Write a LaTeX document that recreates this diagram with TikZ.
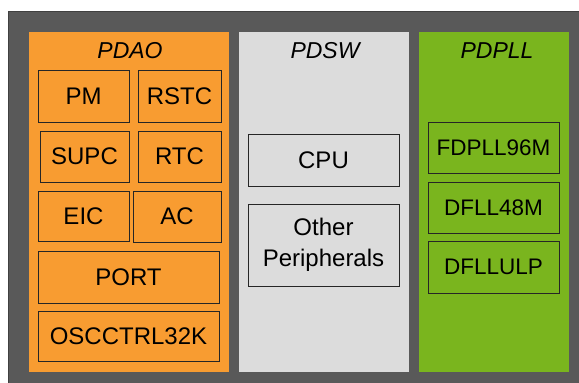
\documentclass[tikz,border=0pt]{standalone}
\usepackage{fontspec}
\setmainfont{Liberation Sans}

\definecolor{pomarancz}{RGB}{248,156,49}
\definecolor{zielony}{RGB}{122,181,30}
\definecolor{jasnyszary}{RGB}{220,220,220}
\definecolor{ciemnyszary}{RGB}{89,89,89}

\tikzset{
	blok/.style={draw=black!85, line width=0.8pt, inner sep=0pt, align=center,
		font=\fontsize{24}{31}\selectfont},
	blokpll/.style={blok, font=\fontsize{22.5}{27}\selectfont},
	dziedzina/.style={inner sep=0pt, minimum width=200pt, minimum height=340pt},
	tytul/.style={font=\fontsize{23}{28}\selectfont\itshape}
}

\begin{document}
\begin{tikzpicture}[x=1pt,y=-1pt]
	
	\useasboundingbox (0,0) rectangle (579,383);
	
	% Tlo
	\fill[ciemnyszary] (8,11) rectangle (600,400);
	\draw[black!75, line width=1pt] (8,400) -- (8,11) -- (600,11);
	
	% Domeny zasilania
	\node[dziedzina, fill=pomarancz] (pdao) at (129,202) {};
	\node[dziedzina, fill=jasnyszary, minimum width=170pt] (pdsw) at (324,202) {};
	\node[dziedzina, fill=zielony, minimum width=150pt] (pdpll) at (494,202) {};
	
	\node[tytul] (tpdao) at (130,51) {PDAO};
	\node[tytul] (tpdsw) at (325,51) {PDSW};
	\node[tytul] (tpdpll) at (497,51) {PDPLL};
	
	% PDAO
	\node[blok, minimum width=91pt, minimum height=52pt] (pm) at (83.5,96) {PM};
	\node[blok, minimum width=83pt, minimum height=52pt] (rstc) at (179.5,96) {RSTC};
	\node[blok, minimum width=89pt, minimum height=51pt] (supc) at (84.5,156.5) {SUPC};
	\node[blok, minimum width=83pt, minimum height=51pt] (rtc) at (179.5,156.5) {RTC};
	\node[blok, minimum width=91pt, minimum height=50pt] (eic) at (83.5,216) {EIC};
	\node[blok, minimum width=88pt, minimum height=51pt] (ac) at (177,216.5) {AC};
	\node[blok, minimum width=181pt, minimum height=52pt] (port) at (128.5,277) {PORT};
	\node[blok, minimum width=181pt, minimum height=50pt] (oscctrl) at (128.5,336) {OSCCTRL32K};
	
	% PDSW
	\node[blok, minimum width=151pt, minimum height=52pt] (cpu) at (323.5,160) {CPU};
	\node[blok, minimum width=151pt, minimum height=82pt] (other) at (323.5,245) {Other\\Peripherals};
	
	% PDPLL
	\node[blokpll, minimum width=131pt, minimum height=51pt] (fdpll) at (493.5,147.5) {FDPLL96M};
	\node[blokpll, minimum width=131pt, minimum height=51pt] (dfll) at (493.5,207.5) {DFLL48M};
	\node[blokpll, minimum width=131pt, minimum height=52pt] (dfllulp) at (493.5,267) {DFLLULP};
	
\end{tikzpicture}
\end{document}
